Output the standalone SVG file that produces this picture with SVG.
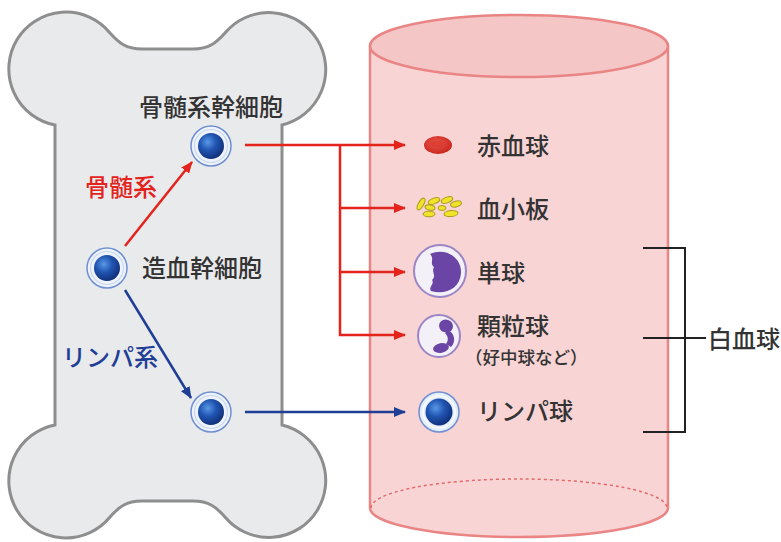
<svg xmlns="http://www.w3.org/2000/svg" width="781" height="542" viewBox="0 0 781 542">
  <defs>
    <style>
      .lbl { font-family: "Noto Sans CJK JP", "Noto Sans", sans-serif; font-size: 24px; font-weight: 500; fill: #333333; }
      .small { font-size: 17.5px; }
      .red { fill: #e3231c; }
      .blue { fill: #1f3f97; }
      .lnRed { stroke: #e3231c; stroke-width: 2.5; fill: none; }
      .lnBlue { stroke: #1f3f97; stroke-width: 2.5; fill: none; }
      .lnBlack { stroke: #222222; stroke-width: 2; fill: none; }
      .ring { fill: #eef3fb; stroke: #6f8fd0; stroke-width: 1.5; }
      .ringIn { fill: none; stroke: #c9d7ef; stroke-width: 1.2; }
      .plt { fill: #f1e22a; stroke: #a99b1a; stroke-width: 1; }
      .wbc { fill: #f3f0f7; stroke: #9c85c6; stroke-width: 2; }
      .nuc { fill: #6a45a6; }
    </style>
    <radialGradient id="nucleus" cx="0.38" cy="0.35" r="0.7">
      <stop offset="0" stop-color="#5a98e6"/>
      <stop offset="0.45" stop-color="#2156b3"/>
      <stop offset="1" stop-color="#0f2c74"/>
    </radialGradient>
    <radialGradient id="rbc" cx="0.45" cy="0.4" r="0.65">
      <stop offset="0" stop-color="#e8564a"/>
      <stop offset="1" stop-color="#c8221a"/>
    </radialGradient>
    <marker id="arrRed" viewBox="0 0 12 10" refX="11" refY="5" markerWidth="12" markerHeight="10" markerUnits="userSpaceOnUse" orient="auto">
      <path d="M0,0 L12,5 L0,10 Z" fill="#e3231c"/>
    </marker>
    <marker id="arrBlue" viewBox="0 0 12 10" refX="11" refY="5" markerWidth="12" markerHeight="10" markerUnits="userSpaceOnUse" orient="auto">
      <path d="M0,0 L12,5 L0,10 Z" fill="#1f3f97"/>
    </marker>
    <g id="stemCell">
      <circle r="20" class="ring"/>
      <circle r="16.5" class="ringIn"/>
      <circle r="13" fill="url(#nucleus)"/>
    </g>
  </defs>

  <rect width="781" height="542" fill="#ffffff"/>

  <!-- bone -->
  <g id="bone">
    <path d="M 55,125 A 57,57 0 1 1 110,33 C 119,43 126,49 142,49 L 193,49 C 209,49 216,43 225,33 A 57,57 0 1 1 282,125 L 282,425 A 57,57 0 1 1 225,517 C 216,507 209,501 193,501 L 142,501 C 126,501 119,507 110,517 A 57,57 0 1 1 55,425 Z" fill="#e9eaec" stroke="#8e8e8e" stroke-width="3"/>
  </g>

  <!-- blood vessel -->
  <g id="vessel">
    <path d="M 370,46 L 370,508 A 149,29 0 0 0 668,508 L 668,46 Z" fill="#f8d4d4" stroke="#ea8585" stroke-width="2.5"/>
    <ellipse cx="519" cy="46" rx="149" ry="31" fill="#f5c6c6" stroke="#ea8585" stroke-width="2.5"/>
    <path d="M 371,508 A 148,29 0 0 1 667,508" fill="none" stroke="#e46a6a" stroke-width="1.5" stroke-dasharray="3 3"/>
  </g>

  <!-- connectors -->
  <g id="connectors">
    <line x1="125" y1="246" x2="192" y2="162" class="lnRed" marker-end="url(#arrRed)"/>
    <line x1="125" y1="290" x2="191" y2="398" class="lnBlue" marker-end="url(#arrBlue)"/>
    <line x1="245" y1="145" x2="405" y2="145" class="lnRed" marker-end="url(#arrRed)"/>
    <line x1="340" y1="145" x2="340" y2="336" class="lnRed"/>
    <line x1="339" y1="208" x2="405" y2="208" class="lnRed" marker-end="url(#arrRed)"/>
    <line x1="339" y1="272" x2="405" y2="272" class="lnRed" marker-end="url(#arrRed)"/>
    <line x1="339" y1="335" x2="405" y2="335" class="lnRed" marker-end="url(#arrRed)"/>
    <line x1="245" y1="412" x2="405" y2="412" class="lnBlue" marker-end="url(#arrBlue)"/>
    <path d="M 643,248 H 685 V 432 H 643" class="lnBlack"/>
    <line x1="643" y1="338" x2="706" y2="338" class="lnBlack"/>
  </g>

  <!-- bone marrow nodes -->
  <g id="hsc">
    <use href="#stemCell" x="107" y="268"/>
    <text class="lbl" x="142" y="277">造血幹細胞</text>
  </g>
  <g id="myeloid-stem">
    <use href="#stemCell" x="211" y="146"/>
    <text class="lbl" x="139" y="116">骨髄系幹細胞</text>
  </g>
  <g id="lymphoid-stem">
    <use href="#stemCell" x="211" y="412"/>
  </g>
  <g id="label-myeloid">
    <text class="lbl red" x="85" y="196">骨髄系</text>
  </g>
  <g id="label-lymphoid">
    <text class="lbl blue" x="62" y="366">リンパ系</text>
  </g>

  <!-- blood cells -->
  <g id="erythrocyte">
    <ellipse cx="438" cy="145" rx="14" ry="9" fill="url(#rbc)"/>
    <ellipse cx="437" cy="144" rx="6" ry="3" fill="#d8372c" opacity="0.7"/>
    <text class="lbl" x="477" y="155">赤血球</text>
  </g>
  <g id="platelet">
    <ellipse cx="421" cy="204" rx="6.5" ry="2.6" transform="rotate(-60 421 204)" class="plt"/>
    <ellipse cx="434" cy="201" rx="6" ry="2.8" transform="rotate(-20 434 201)" class="plt"/>
    <ellipse cx="447" cy="200" rx="6" ry="2.8" transform="rotate(-20 447 200)" class="plt"/>
    <ellipse cx="430" cy="207.5" rx="5" ry="2.6" transform="rotate(10 430 207.5)" class="plt"/>
    <ellipse cx="442" cy="208" rx="4" ry="2.4" class="plt"/>
    <ellipse cx="456" cy="204" rx="5.5" ry="2.8" transform="rotate(-15 456 204)" class="plt"/>
    <ellipse cx="429" cy="214" rx="6" ry="2.8" class="plt"/>
    <ellipse cx="451" cy="213.5" rx="7" ry="3" transform="rotate(-5 451 213.5)" class="plt"/>
    <text class="lbl" x="477" y="218">血小板</text>
  </g>
  <g id="monocyte">
    <circle cx="440" cy="271" r="26" class="wbc"/>
    <path d="M 430,254 C 446,247 462,258 461,273 C 460,289 445,295 431,291 C 428,287 435,284 432,280 C 437,276 431,272 434,267 C 429,263 435,259 430,254 Z" class="nuc"/>
    <text class="lbl" x="477" y="282">単球</text>
  </g>
  <g id="granulocyte">
    <circle cx="439" cy="336" r="21" class="wbc"/>
    <!-- segmented nucleus: upper lobe, right bridge, lower lobe -->
    <ellipse cx="446" cy="326" rx="7" ry="6.5" transform="rotate(20 446 326)" class="nuc"/>
    <path d="M 448,330 C 455,333 456,342 451,347 L 446,344 C 449,340 448,336 445,333 Z" class="nuc"/>
    <ellipse cx="441" cy="348" rx="8" ry="4.8" transform="rotate(-10 441 348)" class="nuc"/>
    <text class="lbl" x="477" y="335">顆粒球</text>
    <text class="lbl small" x="465" y="364">（好中球など）</text>
  </g>
  <g id="lymphocyte">
    <circle cx="439" cy="412" r="20" fill="#e4eefa" stroke="#6f8fd0" stroke-width="1.5"/>
    <circle cx="439" cy="412" r="16" fill="none" stroke="#ffffff" stroke-width="1.5" opacity="0.8"/>
    <circle cx="439" cy="412" r="13.5" fill="url(#nucleus)"/>
    <text class="lbl" x="477" y="420">リンパ球</text>
  </g>
  <g id="leukocyte-label">
    <text class="lbl" x="708" y="348">白血球</text>
  </g>
</svg>
